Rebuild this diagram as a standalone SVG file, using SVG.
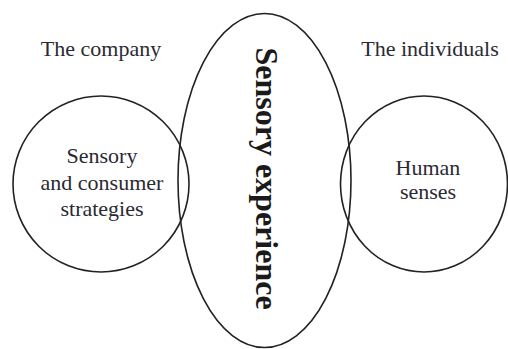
<svg xmlns="http://www.w3.org/2000/svg" width="508" height="349" viewBox="0 0 508 349">
<style>
.shape{fill:none;stroke:#222;stroke-width:1.6}
.lbl{font-family:"Liberation Serif","Times New Roman",serif;font-size:22px;fill:#2a2a33;text-anchor:middle}
.big{font-family:"Liberation Serif","Times New Roman",serif;font-size:32px;font-weight:bold;fill:#1a1a1a;text-anchor:middle}
</style>
<rect width="508" height="349" fill="#fff"/>
<g id="connectors"></g>
<g id="company-label"><text class="lbl" x="101" y="56">The company</text></g>
<g id="individuals-label"><text class="lbl" x="430" y="56">The individuals</text></g>
<g id="strategies">
<circle class="shape" cx="101" cy="184" r="88"/>
<text class="lbl" x="102" y="163">Sensory</text>
<text class="lbl" x="102" y="190">and consumer</text>
<text class="lbl" x="102" y="216">strategies</text>
</g>
<g id="experience">
<ellipse class="shape" cx="264.5" cy="180.5" rx="86.5" ry="167"/>
<text class="big" transform="translate(256,178.5) rotate(90)" x="0" y="0">Sensory experience</text>
</g>
<g id="senses">
<ellipse class="shape" cx="424" cy="184" rx="83.5" ry="88"/>
<text class="lbl" x="428" y="175">Human</text>
<text class="lbl" x="428" y="199">senses</text>
</g>
</svg>
